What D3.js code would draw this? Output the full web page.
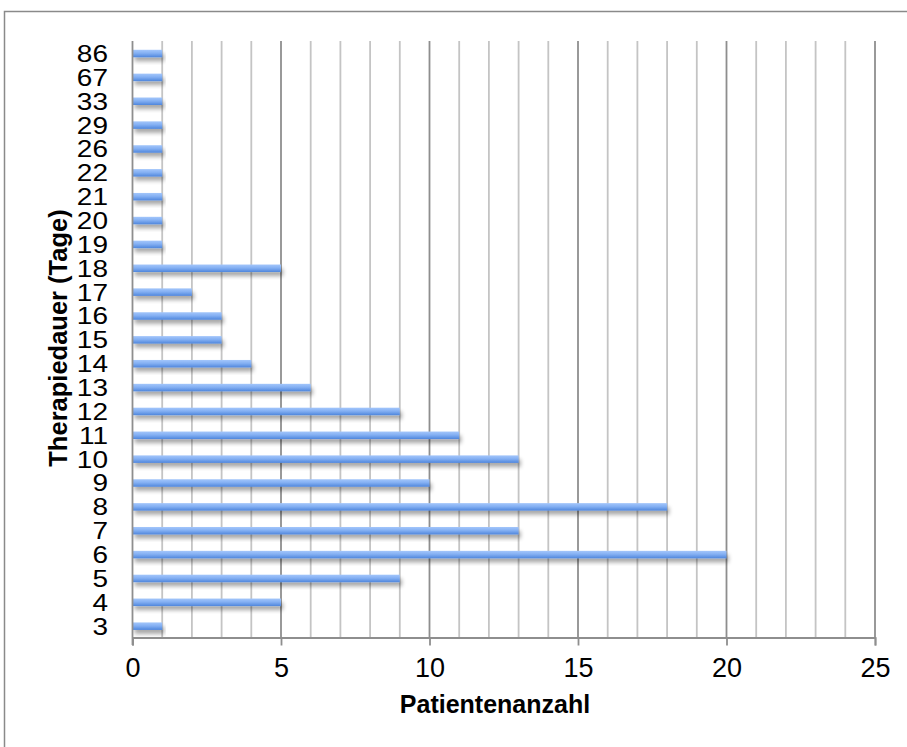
<!DOCTYPE html>
<html><head><meta charset="utf-8">
<script src="https://cdn.jsdelivr.net/npm/d3@7"></script>
<style>
html,body{margin:0;padding:0;background:#fff;}
svg{display:block;font-family:"Liberation Sans",Arial,Helvetica,sans-serif;}
</style></head>
<body>
<script>
const categories = ["3","4","5","6","7","8","9","10","11","12","13","14","15","16","17","18","19","20","21","22","26","29","33","67","86"];
const values = [1,5,9,20,13,18,10,13,11,9,6,4,3,3,2,5,1,1,1,1,1,1,1,1,1];
const xTicks = [0,5,10,15,20,25];
const xTitle = "Patientenanzahl";
const yTitle = "Therapiedauer (Tage)";

const W = 907, H = 747;
const svg = d3.select("body").append("svg").attr("width", W).attr("height", H);

const defs = svg.append("defs");
const grad = defs.append("linearGradient").attr("id","barGrad").attr("x1",0).attr("y1",0).attr("x2",0).attr("y2",1);
grad.append("stop").attr("offset","0%").attr("stop-color","#a3c6fb");
grad.append("stop").attr("offset","45%").attr("stop-color","#84b0f3");
grad.append("stop").attr("offset","100%").attr("stop-color","#4f86dc");
const filt = defs.append("filter").attr("id","shadow").attr("x","-5%").attr("y","-50%").attr("width","115%").attr("height","250%");
filt.append("feGaussianBlur").attr("in","SourceAlpha").attr("stdDeviation",2.2).attr("result","b");
filt.append("feOffset").attr("in","b").attr("dx",2).attr("dy",4).attr("result","o");
filt.append("feComponentTransfer").attr("in","o").attr("result","s")
  .append("feFuncA").attr("type","linear").attr("slope",0.35);
const merge = filt.append("feMerge");
merge.append("feMergeNode").attr("in","s");
merge.append("feMergeNode").attr("in","SourceGraphic");

// outer frame
svg.append("rect").attr("x",4.5).attr("y",11.5).attr("width",W).attr("height",H)
  .attr("fill","none").attr("stroke","#8a8a8a").attr("stroke-width",1.5);

const x = d3.scaleLinear().domain([0,25]).range([132.5,875]);
const y = d3.scaleBand().domain(categories.slice().reverse()).range([41,637.5]).paddingInner(0).paddingOuter(0);

// grid lines
const gridVals = d3.range(1,26);
svg.append("g").selectAll("line").data(gridVals).join("line")
  .attr("x1",d=>x(d)).attr("x2",d=>x(d)).attr("y1",41).attr("y2",637.5)
  .attr("stroke",d=>d%5===0?"#8e8e8e":"#c4c4c4").attr("stroke-width",1.8);

// bars
const barH = 7.5;
svg.append("g").selectAll("rect").data(categories).join("rect")
  .attr("x",x(0))
  .attr("y",(d)=>y(d)+y.bandwidth()/2-barH/2+0.6)
  .attr("width",(d,i)=>x(values[i])-x(0))
  .attr("height",barH)
  .attr("fill","url(#barGrad)")
  .attr("filter","url(#shadow)");

// axes
const xAxis = svg.append("g").attr("transform","translate(0,637.5)")
  .call(d3.axisBottom(x).tickValues(xTicks).tickSize(8).tickPadding(12).tickFormat(d3.format("d")));
xAxis.select(".domain").attr("stroke","#8e8e8e").attr("stroke-width",1.8);
xAxis.selectAll(".tick line").attr("stroke","#8e8e8e").attr("stroke-width",1.8);
xAxis.selectAll(".tick text").attr("font-size",27).attr("fill","#000").attr("font-family","Liberation Sans, Arial, sans-serif");

svg.append("line").attr("x1",x(0)).attr("x2",x(0)).attr("y1",41).attr("y2",645)
  .attr("stroke","#8e8e8e").attr("stroke-width",1.8);

// y tick labels (slightly compressed vertically)
svg.append("g").selectAll("text").data(categories).join("text")
  .attr("transform",d=>`translate(108,${y(d)+y.bandwidth()/2+9}) scale(1,0.84)`)
  .attr("text-anchor","end").attr("font-size",28).attr("fill","#000")
  .text(d=>d);

// axis titles
svg.append("text").attr("x",495).attr("y",713).attr("text-anchor","middle")
  .attr("font-size",25).attr("font-weight","bold").attr("fill","#000").text(xTitle);
svg.append("text").attr("transform","translate(67,338) rotate(-90)").attr("text-anchor","middle")
  .attr("font-size",25.5).attr("font-weight","bold").attr("fill","#000").text(yTitle);
</script>
</body></html>
